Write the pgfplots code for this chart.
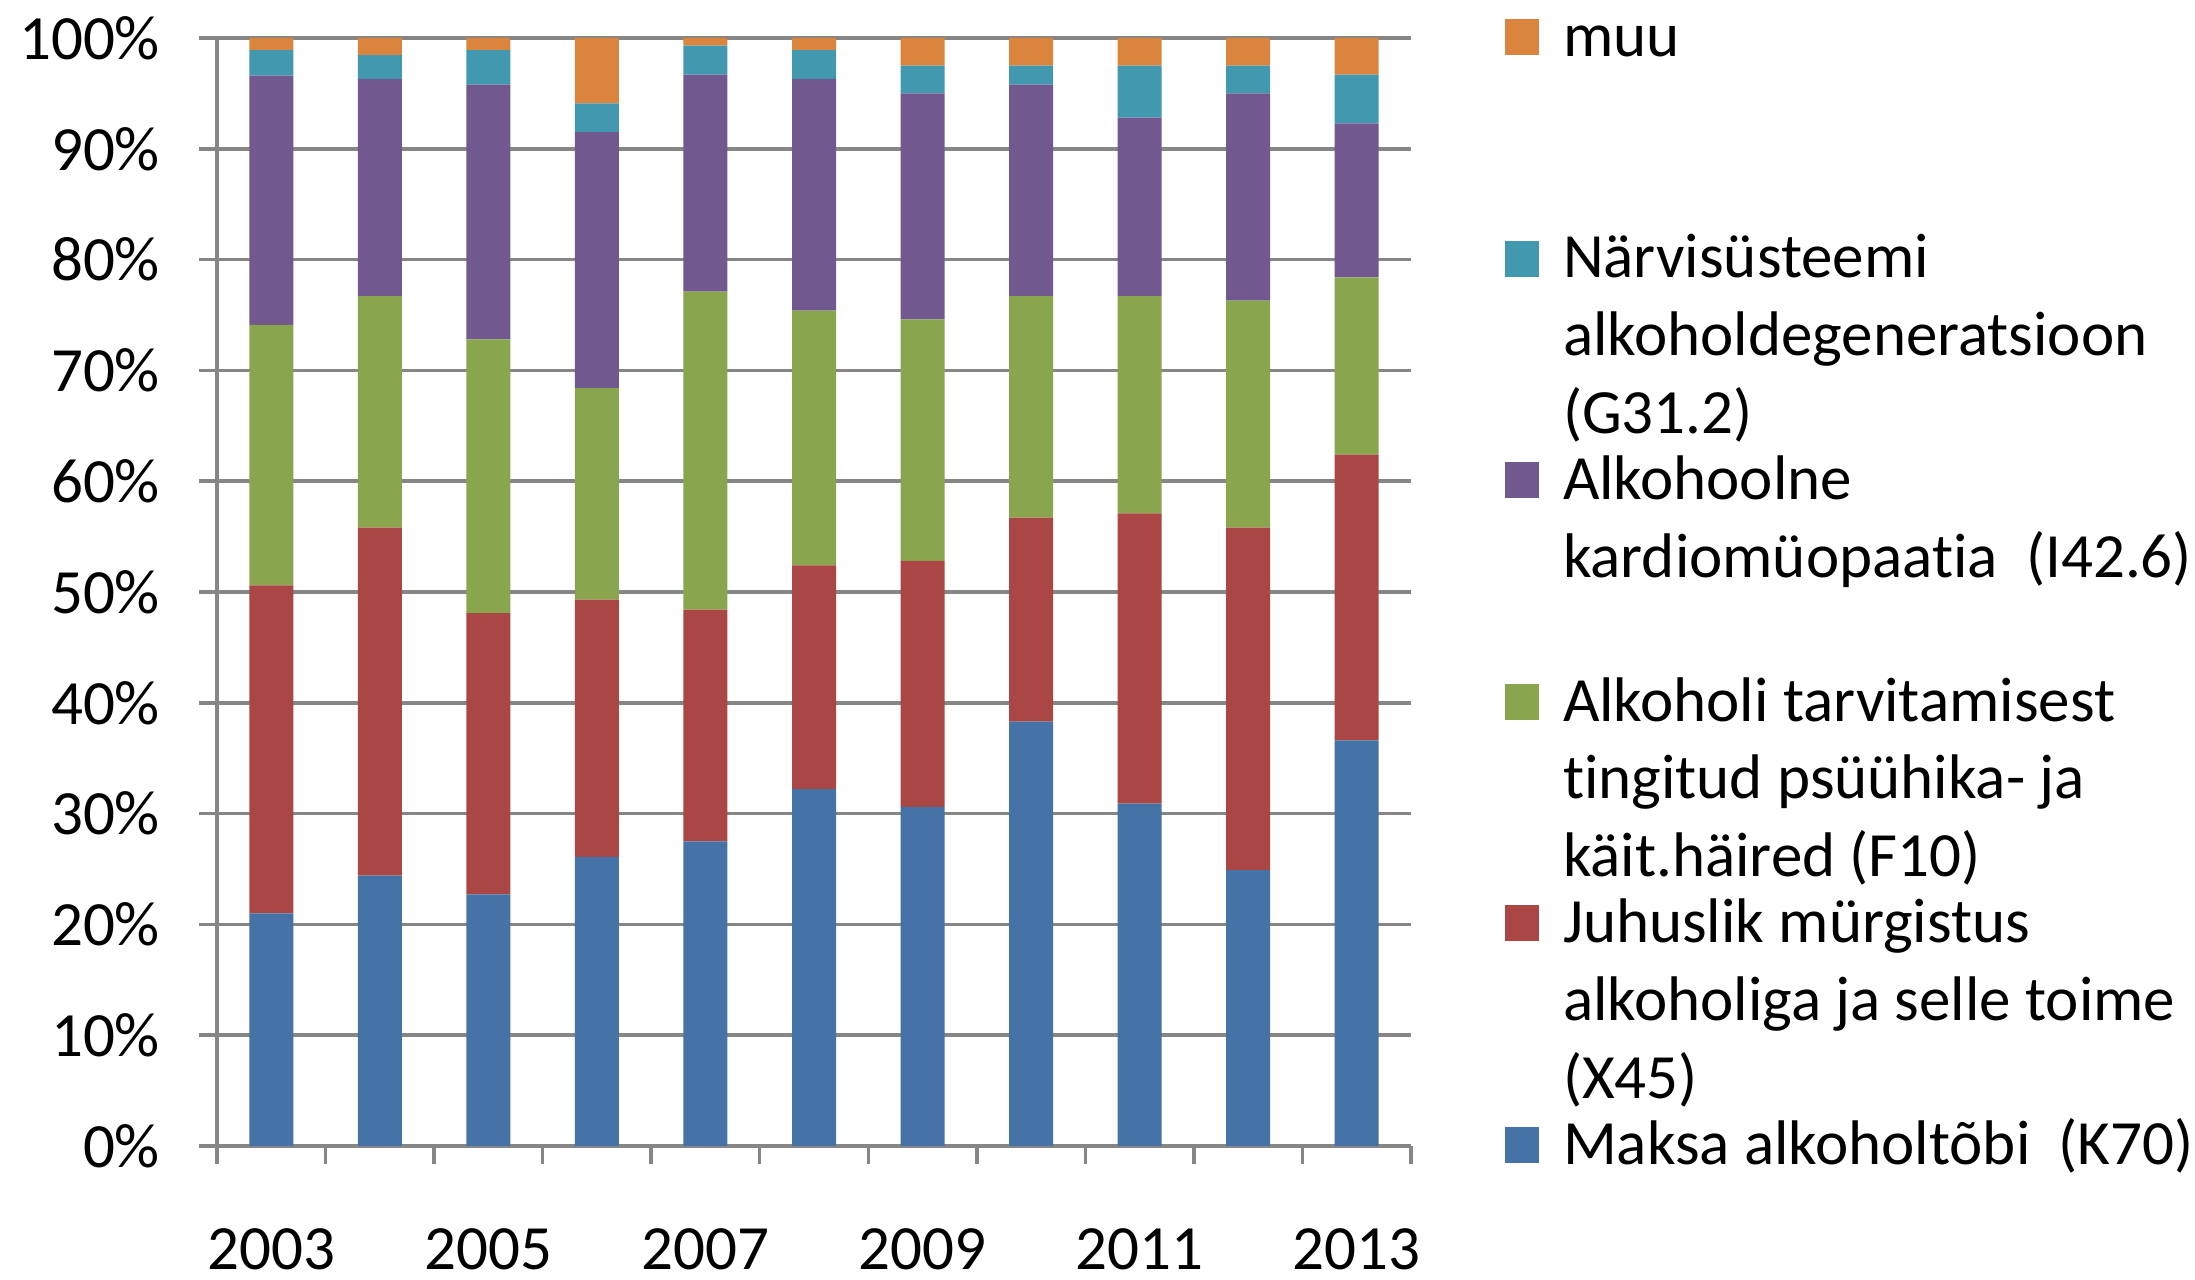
\documentclass[border=0pt]{standalone}
\usepackage{fontspec}
\setmainfont{Carlito}[Ligatures=NoCommon]
\usepackage{pgfplots}
\usepackage{pgfplotstable}
\pgfplotsset{compat=1.18}
\definecolor{cblue}{HTML}{4572A7}
\definecolor{cred}{HTML}{AA4643}
\definecolor{cgreen}{HTML}{89A54E}
\definecolor{cpurple}{HTML}{71588F}
\definecolor{cteal}{HTML}{4198AF}
\definecolor{corange}{HTML}{DB843D}
\definecolor{gridgray}{HTML}{868686}

\pgfplotstableread{
x blue red green purple teal orange
0 21.0 29.6 23.5 22.5 2.3 1.1
1 24.4 31.4 20.9 19.6 2.15 1.55
2 22.7 25.4 24.7 23.0 3.1 1.1
3 26.1 23.2 19.1 23.1 2.6 5.9
4 27.5 20.9 28.7 19.6 2.6 0.7
5 32.2 20.2 23.0 20.9 2.6 1.1
6 30.6 22.2 21.8 20.4 2.5 2.5
7 38.3 18.4 20.0 19.1 1.7 2.5
8 30.9 26.2 19.6 16.1 4.7 2.5
9 24.9 30.9 20.5 18.7 2.5 2.5
10 36.6 25.8 16.0 13.9 4.4 3.3
}\data

\newcommand{\lfont}{\fontsize{12.6}{15.5}\selectfont}

\begin{document}
\begin{tikzpicture}
\useasboundingbox (0,0) rectangle (439pt,256pt);
\begin{axis}[
  at={(43.4pt,26.8pt)}, anchor=south west,
  width=238.8pt, height=221.6pt, scale only axis,
  ybar stacked, bar width=8.8pt,
  xmin=-0.5, xmax=10.5, ymin=0, ymax=100,
  axis x line*=bottom, axis y line*=left,
  axis line style={draw=gridgray, line width=0.7pt},
  ymajorgrids, grid style={draw=gridgray, line width=0.7pt},
  tick style={draw=gridgray, line width=0.7pt},
  tick align=outside, major tick length=3.6pt,
  ytick={0,10,20,30,40,50,60,70,80,90,100},
  yticklabels={0\%,10\%,20\%,30\%,40\%,50\%,60\%,70\%,80\%,90\%,100\%},
  xtick={-0.5,0.5,1.5,2.5,3.5,4.5,5.5,6.5,7.5,8.5,9.5,10.5},
  xticklabels={,,,,,,,,,,,},
  extra x ticks={0,2,4,6,8,10},
  extra x tick labels={2003,2005,2007,2009,2011,2013},
  extra x tick style={major tick length=0pt, grid=none},
  tick label style={font=\lfont},
  yticklabel style={anchor=east, inner sep=0pt, xshift=-7.6pt},
  xticklabel style={anchor=north, inner sep=0pt, yshift=-16.4pt},
  every axis plot/.append style={draw=none},
]
\addplot[fill=cblue] table[x=x, y=blue] {\data};
\addplot[fill=cred] table[x=x, y=red] {\data};
\addplot[fill=cgreen] table[x=x, y=green] {\data};
\addplot[fill=cpurple] table[x=x, y=purple] {\data};
\addplot[fill=cteal] table[x=x, y=teal] {\data};
\addplot[fill=corange] table[x=x, y=orange] {\data};
\end{axis}
% legend
\tikzset{lt/.style={anchor=west, inner sep=0pt, text height=0.7em, text depth=0.25em, font=\lfont}}
\fill[corange] (301.0pt,245.0pt) rectangle (307.8pt,252.2pt);
\node[lt] at (312.4pt,247.0pt) {muu};
\fill[cteal] (301.0pt,200.68pt) rectangle (307.8pt,207.88pt);
\node[lt] at (312.4pt,202.68pt) {Närvisüsteemi};
\node[lt] at (312.4pt,187.14pt) {alkoholdegeneratsioon};
\node[lt] at (312.4pt,171.6pt) {(G31.2)};
\fill[cpurple] (301.0pt,156.36pt) rectangle (307.8pt,163.56pt);
\node[lt] at (312.4pt,158.36pt) {Alkohoolne};
\node[lt] at (312.4pt,142.82pt) {kardiomüopaatia\ \ (I42.6)};
\fill[cgreen] (301.0pt,112.04pt) rectangle (307.8pt,119.24pt);
\node[lt] at (312.4pt,114.04pt) {Alkoholi tarvitamisest};
\node[lt] at (312.4pt,98.5pt) {tingitud psüühika-\ ja};
\node[lt] at (312.4pt,82.96pt) {käit.häired (F10)};
\fill[cred] (301.0pt,67.72pt) rectangle (307.8pt,74.92pt);
\node[lt] at (312.4pt,69.72pt) {Juhuslik mürgistus};
\node[lt] at (312.4pt,54.18pt) {alkoholiga ja\ selle toime};
\node[lt] at (312.4pt,38.64pt) {(X45)};
\fill[cblue] (301.0pt,23.4pt) rectangle (307.8pt,30.6pt);
\node[lt] at (312.4pt,25.4pt) {Maksa alkoholtõbi\ \ (K70)};
\end{tikzpicture}
\end{document}
